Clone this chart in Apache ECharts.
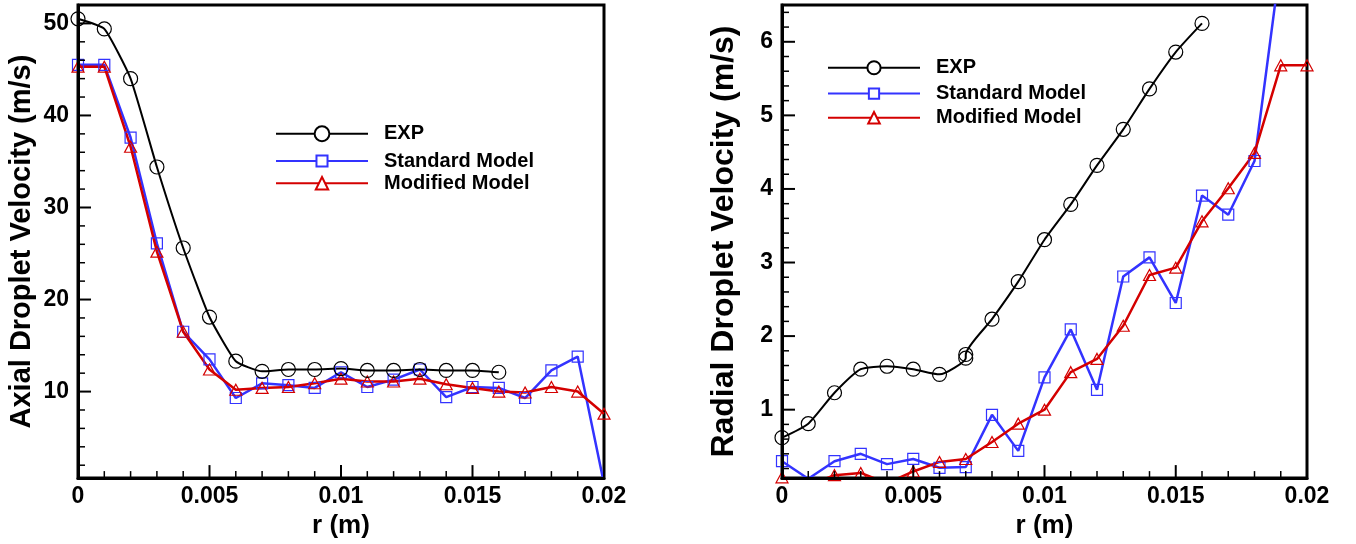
<!DOCTYPE html>
<html>
<head>
<meta charset="utf-8">
<title>Droplet Velocity Profiles</title>
<script src="https://cdn.jsdelivr.net/npm/echarts@6/dist/echarts.min.js"></script>
<style>
  html, body { margin: 0; padding: 0; background: #ffffff; }
  #chart { width: 1356px; height: 544px; }
</style>
</head>
<body>
<div id="chart"></div>
<script>
// Radial positions (m)
const rModel = [0, 0.001, 0.002, 0.003, 0.004, 0.005, 0.006, 0.007, 0.008, 0.009, 0.010,
                0.011, 0.012, 0.013, 0.014, 0.015, 0.016, 0.017, 0.018, 0.019, 0.020];
const rExpAxial = [0, 0.001, 0.002, 0.003, 0.004, 0.005, 0.006, 0.007, 0.008, 0.009, 0.010,
                   0.011, 0.012, 0.013, 0.014, 0.015, 0.016];
const rExpRadial = [0, 0.001, 0.002, 0.003, 0.004, 0.005, 0.006, 0.007, 0.007, 0.008, 0.009,
                    0.010, 0.011, 0.012, 0.013, 0.014, 0.015, 0.016];

// Axial droplet velocity (m/s)
const axialExp = [50.5, 49.4, 44.0, 34.4, 25.6, 18.1, 13.3, 12.2, 12.4, 12.4, 12.5,
                  12.3, 12.3, 12.4, 12.3, 12.3, 12.1];
const axialStandard = [45.5, 45.5, 37.6, 26.1, 16.5, 13.5, 9.3, 10.9, 10.7, 10.4, 12.1,
                       10.5, 11.3, 12.4, 9.4, 10.5, 10.4, 9.3, 12.3, 13.8, 0.0];
const axialModified = [45.3, 45.3, 36.6, 25.2, 16.5, 12.4, 10.2, 10.4, 10.5, 10.9, 11.4,
                       11.1, 11.1, 11.4, 10.8, 10.4, 10.0, 9.9, 10.5, 10.0, 7.6];

// Radial droplet velocity (m/s)
const radialExp = [0.62, 0.81, 1.23, 1.55, 1.59, 1.55, 1.48, 1.70, 1.75, 2.23, 2.74,
                   3.31, 3.79, 4.32, 4.81, 5.36, 5.86, 6.25];
const radialStandard = [0.30, 0.06, 0.30, 0.40, 0.26, 0.33, 0.21, 0.22, 0.93, 0.44, 1.44,
                        2.09, 1.27, 2.81, 3.07, 2.45, 3.91, 3.65, 4.38, 7.1, 7.6];
const radialModified = [0.08, -0.03, 0.11, 0.14, 0.0, 0.16, 0.29, 0.33, 0.56, 0.81, 1.00,
                        1.51, 1.69, 2.14, 2.83, 2.93, 3.56, 4.01, 4.49, 5.68, 5.68];

// Tick values
const axialMajorTicks = [10, 20, 30, 40, 50];
const axialMinorTicks = [2, 4, 6, 8, 12, 14, 16, 18, 22, 24, 26, 28, 32, 34, 36, 38, 42, 44, 46, 48];
const radialMajorTicks = [1, 2, 3, 4, 5, 6];
const radialMinorTicks = [0.2, 0.4, 0.6, 0.8, 1.2, 1.4, 1.6, 1.8, 2.2, 2.4, 2.6, 2.8,
                          3.2, 3.4, 3.6, 3.8, 4.2, 4.4, 4.6, 4.8, 5.2, 5.4, 5.6, 5.8, 6.2, 6.4];
const rMajorTicks = [0, 0.005, 0.01, 0.015, 0.02];
const rMinorTicks = [0.001, 0.002, 0.003, 0.004, 0.006, 0.007, 0.008, 0.009,
                     0.011, 0.012, 0.013, 0.014, 0.016, 0.017, 0.018, 0.019];
const rTickLabels = ['0', '0.005', '0.01', '0.015', '0.02'];

const seriesNames = ['EXP', 'Standard Model', 'Modified Model'];

const FONT = "'Liberation Sans', Arial, sans-serif";
const BLUE = '#3333ff';
const RED = '#d40000';

const pairs = (xs, ys) => xs.map((x, i) => [x, ys[i]]);

function xAxisFor(gridIndex) {
  return {
    gridIndex, type: 'value', min: 0, max: 0.02, position: 'bottom', zlevel: 1,
    name: 'r (m)', nameLocation: 'middle', nameGap: 23,
    nameTextStyle: { fontFamily: FONT, fontWeight: 'bold', fontSize: 26, color: '#000' },
    axisLine: { show: true, lineStyle: { color: '#000', width: 3 } },
    axisTick: { show: false },
    splitLine: { show: false },
    axisLabel: {
      show: true, customValues: rMajorTicks, margin: 7,
      fontFamily: FONT, fontWeight: 'bold', fontSize: 23, color: '#000',
      formatter: v => rTickLabels[rMajorTicks.indexOf(v)] ?? String(v)
    }
  };
}

function yAxisFor(gridIndex, min, max, major, title, titleSize) {
  return {
    gridIndex, type: 'value', min, max, position: 'left', zlevel: 1,
    name: title, nameLocation: 'middle', nameGap: 42,
    nameTextStyle: { fontFamily: FONT, fontWeight: 'bold', fontSize: titleSize, color: '#000' },
    axisLine: { show: true, lineStyle: { color: '#000', width: 3 } },
    axisTick: { show: false },
    axisLabel: { show: true, customValues: major, margin: 9,
                 fontFamily: FONT, fontWeight: 'bold', fontSize: 23, color: '#000' },
    splitLine: { show: false }
  };
}

// Inward tick marks, placed through the axes' own scales.
// kind: 0 = major on r axis, 1 = minor on r axis, 2 = major on velocity axis, 3 = minor on velocity axis
const TICK_LEN = [13, 7, 13, 7];
const TICK_WIDTH = [2, 1.5, 2, 1.5];
function tickSeries(gridIdx, yMin, yMajor, yMinor) {
  const data = [
    ...rMajorTicks.map(r => [r, yMin, 0]),
    ...rMinorTicks.map(r => [r, yMin, 1]),
    ...yMajor.map(v => [0, v, 2]),
    ...yMinor.map(v => [0, v, 3])
  ];
  return {
    type: 'custom', coordinateSystem: 'cartesian2d',
    xAxisIndex: gridIdx, yAxisIndex: gridIdx,
    silent: true, clip: false, zlevel: 1, z: 10,
    dimensions: ['x', 'y', 'kind'],
    encode: { x: 0, y: 1 },
    data,
    renderItem: (params, api) => {
      const kind = api.value(2);
      const p = api.coord([api.value(0), api.value(1)]);
      const len = TICK_LEN[kind];
      const w = TICK_WIDTH[kind];
      let shape;
      if (kind < 2) {
        const base = api.coord([api.value(0), yMin])[1];
        shape = { x1: p[0], y1: base, x2: p[0], y2: base - len };
      } else {
        const base = api.coord([0, api.value(1)])[0];
        shape = { x1: base, y1: p[1], x2: base + len, y2: p[1] };
      }
      return { type: 'line', shape, style: { stroke: '#000000', lineWidth: w } };
    }
  };
}

function lineSeries(name, data, idx, color, symbol, size, width, smooth) {
  return {
    name, type: 'line', xAxisIndex: idx, yAxisIndex: idx, data,
    smooth: smooth || false,
    symbol, symbolSize: size, showAllSymbol: true,
    lineStyle: { color, width },
    itemStyle: { color: 'rgba(255,255,255,0)', borderColor: color, borderWidth: 1.2 }
  };
}

// One legend per entry, so each entry can carry its own marker size
const legendRows = [
  { name: 'EXP',            left: 275, center: 133, h: 18.5 },
  { name: 'Standard Model', left: 275, center: 158, h: 13.8 },
  { name: 'Modified Model', left: 275, center: 181, h: 15.5 },
  { name: 'EXP',            left: 827, center: 66,  h: 16.5 },
  { name: 'Standard Model', left: 827, center: 90,  h: 12.8 },
  { name: 'Modified Model', left: 827, center: 115, h: 14.5 }
];
const legends = legendRows.map(row => ({
  data: [row.name], left: row.left, top: row.center - row.h / 2,
  padding: 0, itemWidth: 92, itemHeight: row.h,
  itemStyle: { color: '#ffffff' },
  textStyle: { fontFamily: FONT, fontWeight: 'bold', fontSize: 20, color: '#000',
               lineHeight: row.h, padding: [0, 0, 0, 11] }
}));

const chart = echarts.init(document.getElementById('chart'));
chart.setOption({
  animation: false,
  legend: legends,
  grid: [
    { left: 78, top: 5, width: 526, height: 479, show: true, borderColor: '#000', borderWidth: 3 },
    { left: 782, top: 5, width: 525, height: 478, show: true, borderColor: '#000', borderWidth: 3 }
  ],
  xAxis: [xAxisFor(0), xAxisFor(1)],
  yAxis: [
    yAxisFor(0, 0.6, 52, axialMajorTicks, 'Axial Droplet Velocity (m/s)', 29),
    yAxisFor(1, 0.07, 6.5, radialMajorTicks, 'Radial Droplet Velocity (m/s)', 32)
  ],
  series: [
    lineSeries(seriesNames[1], pairs(rModel, axialStandard), 0, BLUE, 'rect', 11, 2.5),
    lineSeries(seriesNames[2], pairs(rModel, axialModified), 0, RED, 'triangle', [12, 11], 2.5),
    lineSeries(seriesNames[0], pairs(rExpAxial, axialExp), 0, '#000', 'circle', 14, 2, 0.15),
    lineSeries(seriesNames[1], pairs(rModel, radialStandard), 1, BLUE, 'rect', 11, 2.5),
    lineSeries(seriesNames[2], pairs(rModel, radialModified), 1, RED, 'triangle', [12, 11], 2.5),
    lineSeries(seriesNames[0], pairs(rExpRadial, radialExp), 1, '#000', 'circle', 14, 2, 0.2),
    tickSeries(0, 0.6, axialMajorTicks, axialMinorTicks),
    tickSeries(1, 0.07, radialMajorTicks, radialMinorTicks)
  ]
});
</script>
</body>
</html>
